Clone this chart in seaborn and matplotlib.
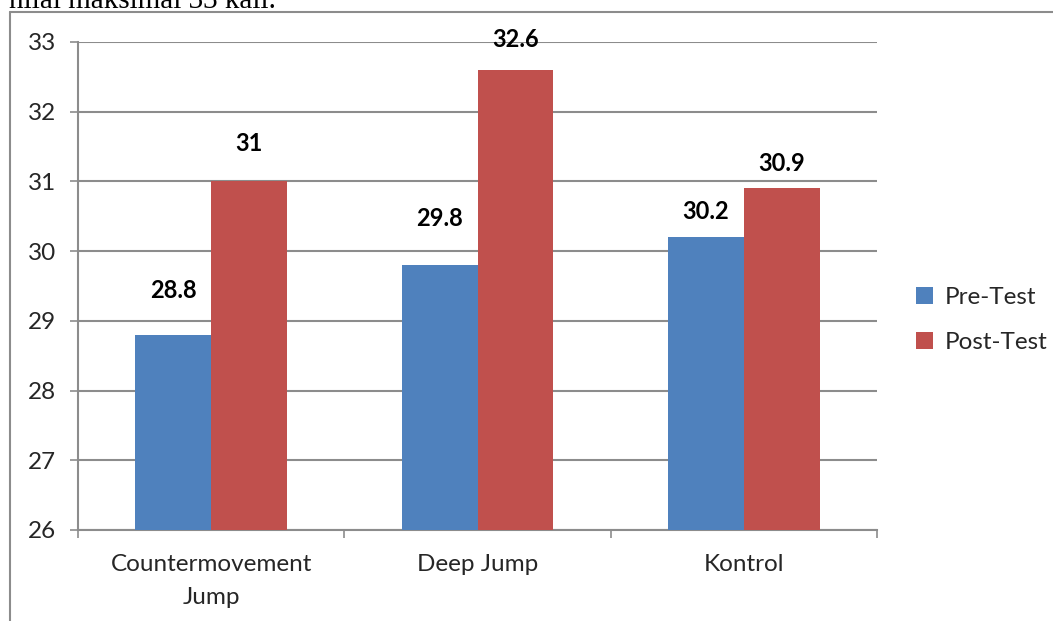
import matplotlib
matplotlib.use("Agg")
import matplotlib.pyplot as plt
from matplotlib.lines import Line2D
from matplotlib.ticker import FixedLocator
import seaborn as sns
import pandas as pd

categories = ["Countermovement\nJump", "Deep Jump", "Kontrol"]
series_names = ["Pre-Test", "Post-Test"]
pre_test = [28.8, 29.8, 30.2]
post_test = [31.0, 32.6, 30.9]
value_labels_pre = ["28.8", "29.8", "30.2"]
value_labels_post = ["31", "32.6", "30.9"]
yticks = [26, 27, 28, 29, 30, 31, 32, 33]
colors = ["#4F81BD", "#C0504D"]
# label positions (data units) as placed in the original chart
label_y_pre = [29.44, 30.475, 30.575]
label_y_post = [31.55, 33.03, 31.26]

sns.set_theme(style="white")
plt.rcParams["font.family"] = ["Lato", "DejaVu Sans"]

df = pd.DataFrame({
    "cat": categories * 2,
    "series": [series_names[0]] * 3 + [series_names[1]] * 3,
    "value": pre_test + post_test,
})

fig = plt.figure(figsize=(10.53, 6.21), dpi=100)
ax = fig.add_axes([78 / 1053, 1 - 530 / 621, (877 - 78) / 1053, (530 - 42) / 621])

sns.barplot(data=df, x="cat", y="value", hue="series", palette=colors,
            width=0.57, ax=ax, saturation=1, edgecolor="none", zorder=3)

FS = 17.5
ax.set_ylim(26, 33)
ax.set_xlim(-0.5, 2.5)
ax.set_yticks(yticks)
ax.set_yticklabels([str(t) for t in yticks], fontsize=FS)
ax.yaxis.grid(True, color="#8c8c8c", linewidth=1.5, zorder=0)
ax.set_axisbelow(True)
ax.set_xlabel("")
ax.set_ylabel("")
ax.set_xticks(range(len(categories)))
ax.set_xticklabels(categories, fontsize=FS, linespacing=1.7)
ax.tick_params(axis="x", which="major", length=0, pad=17)
ax.xaxis.set_minor_locator(FixedLocator([-0.5, 0.5, 1.5, 2.5]))
ax.tick_params(axis="x", which="minor", length=6, width=1.2, color="#8c8c8c", direction="out", bottom=True)
ax.tick_params(axis="y", which="major", length=6, width=1.2, color="#8c8c8c", direction="out", left=True, pad=10)
for s in ["top", "right"]:
    ax.spines[s].set_visible(False)
for s in ["left", "bottom"]:
    ax.spines[s].set_color("#8c8c8c")
    ax.spines[s].set_linewidth(1.5)

# value labels
for cont, labs, ys in zip(ax.containers, [value_labels_pre, value_labels_post], [label_y_pre, label_y_post]):
    for bar, lab, y in zip(cont, labs, ys):
        ax.text(bar.get_x() + bar.get_width() / 2, y, lab, ha="center", va="center",
                fontsize=17, fontweight="bold", color="black", clip_on=False)

leg = ax.legend(loc="center left", bbox_to_anchor=(1.022, 0.43), frameon=False,
                fontsize=FS, handlelength=0.7, handleheight=0.7, labelspacing=1.0, handletextpad=0.45)

# outer chart frame (partially visible)
fig.add_artist(Line2D([10 / 1053, 10 / 1053], [0, 1 - 12 / 621], transform=fig.transFigure,
                      color="#8c8c8c", linewidth=1.5))
fig.add_artist(Line2D([10 / 1053, 1], [1 - 12 / 621, 1 - 12 / 621], transform=fig.transFigure,
                      color="#8c8c8c", linewidth=1.5))

# cut-off document text above chart
fig.text(276 / 1053, 1 - 8 / 621, "nilai maksimal 33 kali.", ha="right", va="baseline",
         fontsize=21, family="Liberation Serif", color="black")

fig.savefig("out.png", dpi=100)
